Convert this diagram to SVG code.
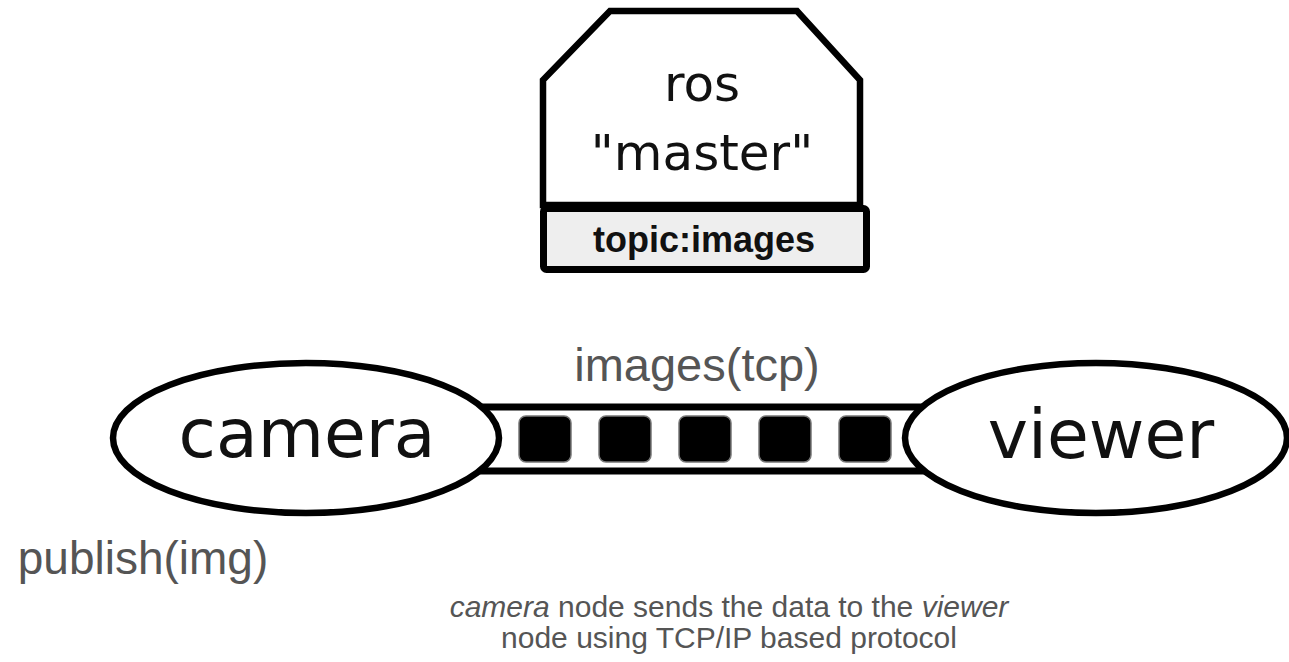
<svg xmlns="http://www.w3.org/2000/svg" width="1289" height="662" viewBox="0 0 1289 662">
<style>
.node{fill:#fff;stroke:#000;stroke-width:6.5}
.big{font-family:"DejaVu Sans",sans-serif;fill:#111;text-anchor:middle}
.lbl{font-family:"Liberation Sans",Arial,sans-serif;fill:#555;text-anchor:middle}
.pkt{fill:#000;stroke:#777;stroke-width:1.5}
.pipe{stroke:#000;stroke-width:7;fill:none}
</style>
<rect width="1289" height="662" fill="#fff"/>
<g id="connectors">
<rect x="480" y="407" width="447" height="64" fill="#fff" stroke="none"/>
<line class="pipe" x1="480" y1="407" x2="927" y2="407"/>
<line class="pipe" x1="480" y1="471" x2="927" y2="471"/>
<g id="packets">
<rect class="pkt" x="519" y="416" width="52" height="46" rx="7"/>
<rect class="pkt" x="599" y="416" width="52" height="46" rx="7"/>
<rect class="pkt" x="679" y="416" width="52" height="46" rx="7"/>
<rect class="pkt" x="759" y="416" width="52" height="46" rx="7"/>
<rect class="pkt" x="839" y="416" width="52" height="46" rx="7"/>
</g>
<text class="lbl" x="697" y="381" font-size="47">images(tcp)</text>
</g>
<g id="master">
<polygon class="node" stroke-width="7" stroke-linejoin="miter" points="610,11 797,11 860,80 860,205 543,205 543,80"/>
<text class="big" x="702" y="101" font-size="50">ros</text>
<text class="big" x="702" y="170" font-size="50">"master"</text>
<g id="topic">
<rect x="543.5" y="208.5" width="323" height="61" rx="3" fill="#eee" stroke="#000" stroke-width="7"/>
<text x="704" y="252" font-family="Liberation Sans, Arial, sans-serif" font-weight="bold" font-size="36" text-anchor="middle" fill="#111">topic:images</text>
</g>
</g>
<g id="camera">
<ellipse class="node" cx="306" cy="438" rx="193" ry="75"/>
<text class="big" x="307" y="457" font-size="68">camera</text>
</g>
<g id="viewer">
<ellipse class="node" cx="1096" cy="438" rx="191" ry="75"/>
<text class="big" x="1101" y="458" font-size="68">viewer</text>
</g>
<text class="lbl" x="143" y="574" font-size="46">publish(img)</text>
<text class="lbl" x="729" y="617" font-size="30"><tspan font-style="italic">camera</tspan> node sends the data to the <tspan font-style="italic">viewer</tspan></text>
<text class="lbl" x="729" y="648" font-size="30">node using TCP/IP based protocol</text>
</svg>
